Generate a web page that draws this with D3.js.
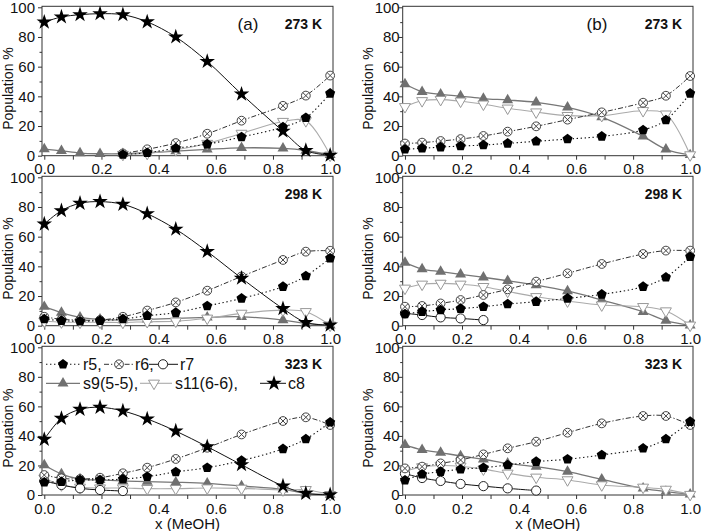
<!DOCTYPE html>
<html><head><meta charset="utf-8">
<script src="https://cdn.jsdelivr.net/npm/d3@7"></script>
<style>body{margin:0;background:#fff;} svg{display:block;font-family:"Liberation Sans",Arial,sans-serif;}</style>
</head><body><svg id="c" width="702" height="531"></svg>
<script>
// ---------- data ----------
const xValues = [0, 0.06, 0.125, 0.195, 0.275, 0.36, 0.46, 0.57, 0.69, 0.835, 0.915, 1.0];
const xTickLabels = ["0.0","0.2","0.4","0.6","0.8","1.0"];
const yTickLabels = ["0","20","40","60","80","100"];
const seriesNames = ["r5","r6","r7","s9(5-5)","s11(6-6)","c8"];
const N = null;

// panel (a) 273 K
const a273_r5  = [N, N, N, N, 0.8, 2, 5, 7.8, 12.6, 19.3, 25.6, 42];
const a273_r6  = [N, N, N, N, 1.5, 4.3, 8.5, 14.8, 23.6, 33.6, 40.5, 54];
const a273_s9  = [4.5, 3.3, 1.8, 1.3, 1.3, 2, 3.1, 4.3, 5.3, 4.9, 3.5, 0.5];
const a273_s11 = [N, N, N, N, 0.8, 1.5, 4, 8.2, 15, 23, 23.5, 0.3];
const a273_c8  = [90, 93.5, 95, 95.7, 95, 90.2, 80, 63.5, 41.5, 16.5, 3.5, 0.3];
// panel (b) 273 K
const b273_r5  = [4.3, 5, 5.8, 6.5, 7.2, 8.3, 9.7, 11.2, 13, 17.3, 24, 42];
const b273_r6  = [8.2, 8.8, 9.9, 11.2, 13.3, 16.2, 19.8, 24.3, 29.2, 35.7, 40.4, 53.7];
const b273_s9  = [48.3, 43.1, 41.3, 40.2, 38.5, 37.5, 36, 32.6, 26, 13, 4.3, 0.5];
const b273_s11 = [33, 37, 37.8, 36.7, 34.7, 32, 29.4, 27, 27, 30.3, 28, 0.5];
// panel (a) 298 K
const a298_r5  = [4.5, 3.4, 3, 3.4, 4.5, 6.7, 8.8, 13.3, 18.4, 26.3, 33.5, 45.5];
const a298_r6  = [6, 4.3, 3.8, 3.8, 6, 10.2, 15.7, 23.6, 33.2, 44.3, 49.9, 50.5];
const a298_s9  = [12.8, 8.8, 5.6, 4.3, 3.8, 4.3, 4.9, 5.6, 6, 3.8, 1.6, 0.3];
const a298_s11 = [3, 2.5, 2.3, 2.3, 2.2, 2.7, 3, 5, 8.3, 10.5, 9.4, 0.3];
const a298_c8  = [68.5, 77.5, 82.5, 83.6, 81.8, 75.5, 65, 50, 32, 11.5, 2.2, 0.4];
// panel (b) 298 K
const b298_r5  = [7.9, 9.4, 10.6, 11.5, 12.8, 14.6, 16.2, 18.4, 21.1, 26.3, 32.6, 46.5];
const b298_r6  = [12.8, 13.3, 15, 17.3, 20.7, 24.5, 29.7, 35.3, 41.6, 48.3, 50.6, 50.6];
const b298_r7  = [8.3, 7.2, 5.6, 4.9, 3.8, N, N, N, N, N, N, N];
const b298_s9  = [42.5, 38.2, 36.4, 34.6, 32.6, 30.3, 27.4, 23.4, 17.3, 9.4, 3.4, 0.3];
const b298_s11 = [25.2, 27.9, 28.5, 27.9, 26.3, 23.1, 19.5, 16.6, 13.9, 12.8, 9.9, 0.3];
// panel (a) 323 K
const a323_r5  = [8.6, 9, 10.2, 10.2, 10.8, 12.4, 15.6, 18.5, 23.3, 31.2, 37.9, 49.2];
const a323_r6  = [13.5, 11.3, 10.8, 11.7, 14.7, 18.5, 24.4, 32, 41, 50.1, 52.6, 47.4];
const a323_r7  = [9.5, 6.8, 4.5, 3.4, 2.7, N, N, N, N, N, N, N];
const a323_s9  = [20.3, 14.2, 10.8, 10.2, 9.5, 9, 8.6, 7.9, 6.1, 3.8, 1.1, 0.2];
const a323_s11 = [11.3, 6.8, 5.2, 4.7, 4.7, 4.3, 4.3, 4.7, 4.5, 3.4, 3.6, 0.2];
const a323_c8  = [37.7, 51.9, 58, 59.4, 56.9, 51.5, 43.3, 32.7, 20.5, 6.1, 1.1, 0.2];
// panel (b) 323 K
const b323_r5  = [10, 14, 15.8, 17.4, 18.5, 20.3, 22.6, 24.2, 27.1, 31.6, 37.9, 49.7];
const b323_r6  = [18, 19.2, 21.4, 23.7, 27.5, 31.6, 36.1, 42.2, 48.5, 53.5, 53.5, 47.4];
const b323_r7  = [14.5, 11.5, 9.5, 7.5, 6, 4.5, 3, N, N, N, N, N];
const b323_s9  = [33.9, 30.5, 28.7, 26.4, 24.2, 21.4, 19.2, 15.8, 10.6, 4.5, 2.3, 0.5];
const b323_s11 = [16, 19, 20, 19.5, 17.5, 14.7, 12, 10.2, 6.8, 5.2, 3.8, 0.3];

const panels = [
  {col:0,row:0,tag:"(a)",temp:"273 K",ylab:"Population %",s:{s9:a273_s9,s11:a273_s11,r6:a273_r6,r5:a273_r5,c8:a273_c8}},
  {col:1,row:0,tag:"(b)",temp:"273 K",ylab:"Population %",s:{s9:b273_s9,s11:b273_s11,r6:b273_r6,r5:b273_r5}},
  {col:0,row:1,tag:"",temp:"298 K",ylab:"Population %",s:{s9:a298_s9,s11:a298_s11,r6:a298_r6,r5:a298_r5,c8:a298_c8}},
  {col:1,row:1,tag:"",temp:"298 K",ylab:"Population %",s:{s9:b298_s9,s11:b298_s11,r7:b298_r7,r6:b298_r6,r5:b298_r5}},
  {col:0,row:2,tag:"",temp:"323 K",ylab:"Popuation %",xlab:"x (MeOH)",legend:true,s:{s9:a323_s9,s11:a323_s11,r7:a323_r7,r6:a323_r6,r5:a323_r5,c8:a323_c8}},
  {col:1,row:2,tag:"",temp:"323 K",ylab:"Popuation %",xlab:"x (MeOH)",s:{s9:b323_s9,s11:b323_s11,r7:b323_r7,r6:b323_r6,r5:b323_r5}}
];

// ---------- layout ----------
const colL = [42, 402.7], colR = [333, 693];
const rowTop = [7.3, 177.3, 347.3], rowBot = [155.7, 325.7, 495];
const tagX = [248, 597];

const styles = {
  r5:  {stroke:"#111", w:1.1, dash:"1.4,2.6"},
  r6:  {stroke:"#333", w:1, dash:"5,2,1.3,2"},
  r7:  {stroke:"#111", w:1, dash:null},
  s9:  {stroke:"#777", w:1.3, dash:null},
  s11: {stroke:"#aaa", w:1.1, dash:null},
  c8:  {stroke:"#111", w:1, dash:null}
};

function pentagon(r){
  const p=[]; for(let k=0;k<5;k++){const a=-Math.PI/2+k*2*Math.PI/5;p.push([r*Math.cos(a),r*Math.sin(a)]);}
  return "M"+p.map(d=>d.join(",")).join("L")+"Z";
}
function drawMarker(g, key, cx, cy){
  const m = g.append("g").attr("transform",`translate(${cx},${cy})`);
  if(key==="r5"){ m.append("path").attr("d",pentagon(5.3)).attr("fill","#000"); }
  else if(key==="r6"){
    m.append("circle").attr("r",4.4).attr("fill","#fff").attr("stroke","#444").attr("stroke-width",1);
    m.append("path").attr("d","M-3.1,-3.1L3.1,3.1M-3.1,3.1L3.1,-3.1").attr("stroke","#444").attr("stroke-width",1);
  }
  else if(key==="r7"){ m.append("circle").attr("r",4.6).attr("fill","#fff").attr("stroke","#222").attr("stroke-width",1); }
  else if(key==="s9"){ m.append("path").attr("d",d3.symbol(d3.symbolTriangle,52)()).attr("fill","#707070"); }
  else if(key==="s11"){ m.append("path").attr("d",d3.symbol(d3.symbolTriangle,52)()).attr("transform","rotate(180)").attr("fill","#fff").attr("stroke","#999").attr("stroke-width",1); }
  else if(key==="c8"){ m.append("path").attr("d",d3.symbol(d3.symbolStar,75)()).attr("fill","#000"); }
}

const svg = d3.select("#c");
const order = ["s9","s11","r7","r6","r5","c8"];

panels.forEach(p=>{
  const x = d3.scaleLinear().domain([-0.008,1.01]).range([colL[p.col], colR[p.col]]);
  const y = d3.scaleLinear().domain([0,100]).range([rowBot[p.row], rowTop[p.row]]);
  const g = svg.append("g");
  const L = colL[p.col], R = colR[p.col], T = rowTop[p.row]-1, B = rowBot[p.row];

  // frame
  g.append("rect").attr("x",L).attr("y",T).attr("width",R-L).attr("height",B-T)
    .attr("fill","none").attr("stroke","#333").attr("stroke-width",1);

  // axes
  const xa = g.append("g").attr("transform",`translate(0,${B})`)
    .call(d3.axisBottom(x).tickValues(d3.range(0,1.01,0.1)).tickSize(4).tickFormat(""));
  xa.select(".domain").remove();
  xa.selectAll("line").attr("stroke","#333");
  const xb = g.append("g").attr("transform",`translate(0,${B})`)
    .call(d3.axisBottom(x).tickValues(xTickLabels.map(Number)).tickSize(0).tickPadding(8).tickFormat((d,i)=>xTickLabels[i]));
  xb.select(".domain").remove();
  xb.selectAll("text").attr("font-size",15).attr("fill","#111").attr("font-family","Liberation Sans, Arial, sans-serif");

  const ya = g.append("g").attr("transform",`translate(${L},0)`)
    .call(d3.axisLeft(y).tickValues(d3.range(0,101,10)).tickSize(4).tickFormat(""));
  ya.select(".domain").remove();
  ya.selectAll(".tick line").attr("stroke","#333").attr("x2",(d)=> d%20===0?-4:-2.5);
  const yb = g.append("g").attr("transform",`translate(${L},0)`)
    .call(d3.axisLeft(y).tickValues(yTickLabels.map(Number)).tickSize(0).tickPadding(p.col===0?7:3).tickFormat((d,i)=>yTickLabels[i]));
  yb.select(".domain").remove();
  yb.selectAll("text").attr("font-size",15).attr("fill","#111").attr("font-family","Liberation Sans, Arial, sans-serif");

  // y label
  const cy = (rowTop[p.row]+rowBot[p.row])/2 + 7;
  g.append("text").attr("transform",`translate(${p.col===0?13:373},${cy}) rotate(-90)`)
    .attr("text-anchor","middle").attr("font-size",14).attr("fill","#111").text(p.ylab);
  if(p.xlab){
    g.append("text").attr("x",(L+R)/2).attr("y",528.5).attr("text-anchor","middle")
      .attr("font-size",15).attr("fill","#111").text(p.xlab);
  }
  if(p.tag){
    g.append("text").attr("x",tagX[p.col]).attr("y",T+24).attr("text-anchor","middle")
      .attr("font-size",17).attr("fill","#111").text(p.tag);
  }
  g.append("text").attr("x",R-11).attr("y",T+23).attr("text-anchor","end")
    .attr("font-size",14).attr("font-weight","bold").attr("fill","#111").text(p.temp);

  // series
  order.forEach(k=>{
    const vals = p.s[k]; if(!vals) return;
    const st = styles[k];
    const pts = xValues.map((xv,i)=>({x:xv,v:vals[i]}));
    const line = d3.line().defined(d=>d.v!=null).x(d=>x(d.x)).y(d=>y(d.v)).curve(d3.curveCatmullRom.alpha(0.5));
    g.append("path").attr("d",line(pts)).attr("fill","none").attr("stroke",st.stroke)
      .attr("stroke-width",st.w).attr("stroke-dasharray",st.dash);
    pts.filter(d=>d.v!=null).forEach(d=>drawMarker(g,k,x(d.x),y(d.v)));
  });

  // legend
  if(p.legend){
    const lg = svg.append("g").attr("font-size",16).attr("fill","#111");
    const r1 = T+18, r2 = T+37;
    const items = [
      {k:"r5", y:r1, x0:46, x1:80, mx:63, tx:83, t:seriesNames[0]+","},
      {k:"r6", y:r1, x0:104, x1:133, mx:119, tx:135, t:seriesNames[1]+","},
      {k:"r7", y:r1, x0:149, x1:178, mx:163, tx:180, t:seriesNames[2]},
      {k:"s9", y:r2, x0:46, x1:80, mx:63, tx:83, t:seriesNames[3]+","},
      {k:"s11",y:r2, x0:140, x1:172, mx:154, tx:175, t:seriesNames[4]+","},
      {k:"c8", y:r2, x0:260, x1:286, mx:274, tx:288, t:seriesNames[5]}
    ];
    items.forEach(it=>{
      const st = styles[it.k];
      lg.append("line").attr("x1",it.x0).attr("x2",it.x1).attr("y1",it.y).attr("y2",it.y)
        .attr("stroke",st.stroke).attr("stroke-width",st.w).attr("stroke-dasharray",st.dash);
      drawMarker(lg,it.k,it.mx,it.y);
      lg.append("text").attr("x",it.tx).attr("y",it.y+5.5).text(it.t);
    });
  }
});
</script></body></html>
